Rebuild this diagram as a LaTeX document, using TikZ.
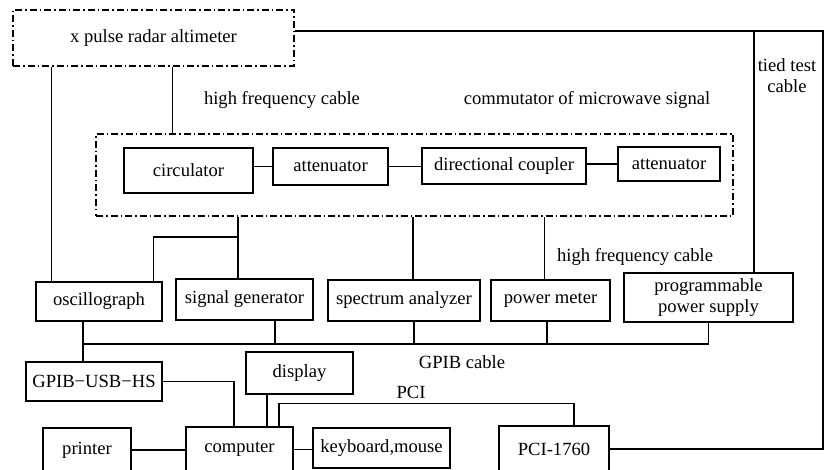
\documentclass[tikz,border=0pt]{standalone}
\usepackage{fontspec}
\setmainfont{Liberation Serif}
\usepackage{tikz}
\usetikzlibrary{positioning}

\begin{document}
\begin{tikzpicture}[
          x=1pt, y=-1pt,
          every node/.style={font=\fontsize{18.6}{21}\selectfont},
          blk/.style={draw, line width=1.4pt, inner sep=0pt, align=center},
          grp/.style={draw, line width=1.4pt, inner sep=0pt,
            dash pattern=on 7pt off 3pt on 1.5pt off 3pt},
          wire/.style={line width=1.4pt}
        ]
        \useasboundingbox (0,0) rectangle (829,470);
        \node[grp, minimum width=281, minimum height=56] (alt) at (153.5,38) {x pulse radar altimeter};
        \node[grp, minimum width=637, minimum height=82] (comm) at (414.5,175) {};
        \node[blk, minimum width=129, minimum height=45] (circ) at (188.5,170.5) {circulator};
        \node[blk, minimum width=115, minimum height=37] (atta) at (330.5,166.5) {attenuator};
        \node[blk, minimum width=164, minimum height=36] (dc) at (504,166) {directional coupler};
        \node[blk, minimum width=102, minimum height=34] (attb) at (669,164) {attenuator};
        \node[blk, minimum width=126, minimum height=39] (osc) at (99,301.5) {oscillograph};
        \node[blk, minimum width=137, minimum height=41] (sg) at (244.5,299.5) {signal generator};
        \node[blk, minimum width=152, minimum height=41] (sa) at (404,300.5) {spectrum analyzer};
        \node[blk, minimum width=119, minimum height=41] (pm) at (550.5,300.5) {power meter};
        \node[blk, minimum width=169, minimum height=49] (pps) at (708.5,297.5) {programmable\\power supply};
        \node[blk, minimum width=136, minimum height=39] (gpib) at (94,381.5) {GPIB−USB−HS};
        \node[blk, minimum width=107, minimum height=42] (disp) at (299.5,373) {display};
        \node[blk, minimum width=88, minimum height=44] (prn) at (87,450) {printer};
        \node[blk, minimum width=107, minimum height=45] (comp) at (239.5,449.5) {computer};
        \node[blk, minimum width=137, minimum height=40] (kb) at (381.5,448) {keyboard,mouse};
        \node[blk, minimum width=110, minimum height=46] (pci) at (554,449) {PCI-1760};

        \node (hfa) at (282,100) {high frequency cable};
        \node (cms) at (587,100) {commutator of microwave signal};
        \node[align=center] (ttc) at (787,76) {tied test\\cable};
        \node (hfb) at (635,257) {high frequency cable};
        \node (gc) at (462,362) {GPIB cable};
        \node (pcil) at (411,392) {PCI};

        \coordinate (rt) at (823,31);
        \coordinate (tt) at (754,31);
        \coordinate (jn) at (238,237);
        \coordinate (bus) at (83,344);

        \draw[wire] ([xshift=16]osc.north west) -- ([xshift=16]osc.north west |- alt.south);
        \draw[wire] ([xshift=77]comm.north west) -- ([xshift=77]comm.north west |- alt.south);
        \draw[wire] ([yshift=7]alt.east) -- (rt) |- (pci.east);
        \draw[wire] (tt) -- (tt |- pps.north);
        \draw[wire] (circ.east |- atta.west) -- (atta.west);
        \draw[wire] (atta.east) -- (atta.east -| dc.west);
        \draw[wire] (dc.east |- attb.west) -- (attb.west);
        \draw[wire] (jn |- comm.south) -- (jn |- sg.north);
        \draw[wire] (jn) -| ([xshift=-9]osc.north east);
        \draw[wire] ([xshift=9]sa.north) -- ([xshift=9]sa.north |- comm.south);
        \draw[wire] ([xshift=-6]pm.north) -- ([xshift=-6]pm.north |- comm.south);
        \draw[wire] (pps.south) |- (bus);
        \draw[wire] ([xshift=-16]osc.south) -- ([xshift=-16]osc.south |- gpib.north);
        \draw[wire] ([xshift=30.5]sg.south) -- ([xshift=30.5]sg.south |- bus);
        \draw[wire] ([xshift=10]sa.south) -- ([xshift=10]sa.south |- bus);
        \draw[wire] ([xshift=-3.5]pm.south) -- ([xshift=-3.5]pm.south |- bus);
        \draw[wire] (gpib.east) -| ([xshift=-5.5]comp.north);
        \draw[wire] ([xshift=27.5]comp.north) -- ([xshift=27.5]comp.north |- disp.south);
        \draw[wire] ([xshift=39.5]comp.north) -- ++(0,-23) -| ([xshift=20]pci.north);
        \draw[wire] (prn.east) -- (prn.east -| comp.west);
        \draw[wire] (comp.east) -- (comp.east -| kb.west);
      \end{tikzpicture}
\end{document}
